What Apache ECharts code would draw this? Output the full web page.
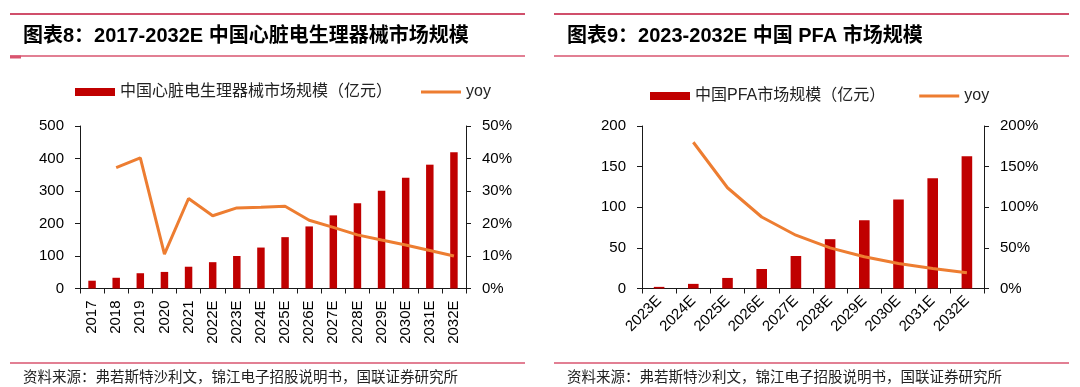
<!DOCTYPE html>
<html>
<head>
<meta charset="utf-8">
<script src="https://cdn.jsdelivr.net/npm/echarts@6/dist/echarts.min.js"></script>
<style>
html,body{margin:0;padding:0;background:#fff;}
#chart{width:1080px;height:387px;}
</style>
</head>
<body>
<div id="chart"></div>
<script>
// ---- Data ----
const leftTitle = '图表8：2017-2032E 中国心脏电生理器械市场规模';
const rightTitle = '图表9：2023-2032E 中国 PFA 市场规模';
const footerText = '资料来源：弗若斯特沙利文，锦江电子招股说明书，国联证券研究所';

const leftCats = ['2017','2018','2019','2020','2021','2022E','2023E','2024E','2025E','2026E','2027E','2028E','2029E','2030E','2031E','2032E'];
const leftBarName = '中国心脏电生理器械市场规模（亿元）';
const leftMarket = [24, 33, 47, 51, 67, 81, 100, 126, 158, 191, 225, 262, 301, 341, 381, 419];
const leftYoy = [null, 37.2, 40.2, 10.6, 27.7, 22.4, 24.8, 25.0, 25.3, 21.0, 18.8, 16.5, 14.9, 13.4, 11.7, 10.0];

const rightCats = ['2023E','2024E','2025E','2026E','2027E','2028E','2029E','2030E','2031E','2032E'];
const rightBarName = '中国PFA市场规模（亿元）';
const rightMarket = [2, 5.7, 13, 24, 40, 60.7, 84, 109.4, 135.7, 162.7];
const rightYoy = [null, 180, 124, 88, 65.6, 50, 39, 30.7, 24.6, 19.3];

const lineName = 'yoy';

// ---- Style ----
const BAR = '#c00000';
const LINE = '#ed7d31';
const LATIN = "'Liberation Sans', 'Noto Sans CJK SC', sans-serif";
const AXIS_COLOR = '#1a1a1a';
const LINE_ICON = 'path://M0,0L40,0L40,3L0,3Z';

function catAxis(gridIndex, data, rotate, margin) {
  return {
    type: 'category', gridIndex, data,
    boundaryGap: true,
    axisLine: { show: true, lineStyle: { color: AXIS_COLOR, width: 1 } },
    axisTick: { show: true, length: 5, interval: 0, lineStyle: { color: AXIS_COLOR } },
    axisLabel: { interval: 0, rotate, margin, fontSize: 15, color: '#000', fontFamily: LATIN },
    splitLine: { show: false }
  };
}
function valAxis(gridIndex, position, max, interval, pct) {
  return {
    type: 'value', gridIndex, position, min: 0, max, interval,
    axisLine: { show: true, lineStyle: { color: AXIS_COLOR, width: 1 } },
    axisTick: { show: true, length: 5, lineStyle: { color: AXIS_COLOR } },
    axisLabel: { fontSize: 15, color: '#000', fontFamily: LATIN, margin: 16,
      formatter: pct ? '{value}%' : '{value}' },
    splitLine: { show: false }
  };
}

function hline(x1, x2, y, color, w) {
  return { type: 'line', silent: true, shape: { x1, y1: y, x2, y2: y },
    style: { stroke: color, lineWidth: w } };
}
function text(x, y, t, font, color) {
  return { type: 'text', silent: true, x, y,
    style: { text: t, font, fill: color, verticalAlign: 'middle', align: 'left' } };
}

const TOP_RED = '#c0143a';
const PINK = '#d9546f';

const chart = echarts.init(document.getElementById('chart'), null, { renderer: 'canvas' });
chart.setOption({
  animation: false,
  backgroundColor: '#fff',
  textStyle: { fontFamily: LATIN },
  graphic: [
    hline(10, 525, 14, TOP_RED, 1.5),
    hline(10, 525, 56, PINK, 1.5),
    hline(10, 21, 57, PINK, 3),
    hline(10, 525, 363, PINK, 1.5),
    hline(554, 1069, 14, TOP_RED, 1.5),
    hline(554, 1069, 56, PINK, 1.5),
    hline(554, 1069, 363, PINK, 1.5),
    text(23, 36, leftTitle, "bold 20px 'Liberation Sans', 'Noto Sans CJK SC'", '#000'),
    text(567, 36, rightTitle, "bold 20px 'Liberation Sans', 'Noto Sans CJK SC'", '#000'),
    text(23, 376, footerText, "14.5px 'Noto Sans CJK SC'", '#222'),
    text(567, 376, footerText, "14.5px 'Noto Sans CJK SC'", '#222')
  ],
  legend: [
    {
      left: 70, top: 79, itemWidth: 40, itemHeight: 8, itemGap: 29,
      symbolKeepAspect: true,
      textStyle: { fontSize: 16, color: '#222', fontFamily: LATIN },
      data: [{ name: leftBarName, icon: 'rect' }, { name: lineName, icon: LINE_ICON }]
    },
    {
      left: 645, top: 83, itemWidth: 40, itemHeight: 8, itemGap: 34,
      symbolKeepAspect: true,
      textStyle: { fontSize: 16, color: '#222', fontFamily: LATIN },
      data: [{ name: rightBarName, icon: 'rect' }, { name: lineName, icon: LINE_ICON }]
    }
  ],
  grid: [
    { left: 80, top: 126, width: 386, height: 162.5, containLabel: false },
    { left: 642, top: 126, width: 342, height: 162.5, containLabel: false }
  ],
  xAxis: [
    catAxis(0, leftCats, 90, 12),
    catAxis(1, rightCats, 45, 10)
  ],
  yAxis: [
    valAxis(0, 'left', 500, 100, false),
    valAxis(0, 'right', 50, 10, true),
    valAxis(1, 'left', 200, 50, false),
    valAxis(1, 'right', 200, 50, true)
  ],
  series: [
    { name: leftBarName, type: 'bar', xAxisIndex: 0, yAxisIndex: 0, data: leftMarket,
      barWidth: '31%', itemStyle: { color: BAR } },
    { name: lineName, type: 'line', xAxisIndex: 0, yAxisIndex: 1, data: leftYoy,
      symbol: 'none', lineStyle: { color: LINE, width: 3 }, itemStyle: { color: LINE } },
    { name: rightBarName, type: 'bar', xAxisIndex: 1, yAxisIndex: 2, data: rightMarket,
      barWidth: '31%', itemStyle: { color: BAR } },
    { name: lineName, type: 'line', xAxisIndex: 1, yAxisIndex: 3, data: rightYoy,
      symbol: 'none', lineStyle: { color: LINE, width: 3 }, itemStyle: { color: LINE } }
  ]
});
</script>
</body>
</html>
